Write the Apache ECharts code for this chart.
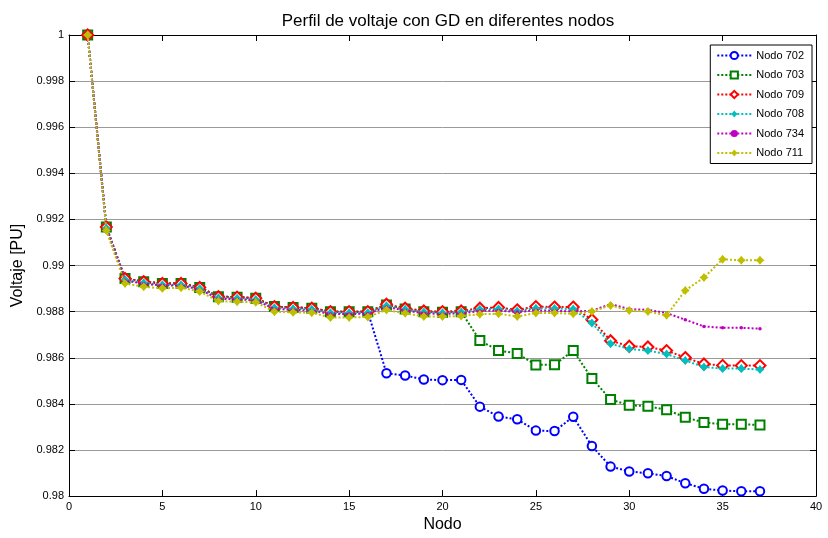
<!DOCTYPE html>
<html>
<head>
<meta charset="utf-8">
<script src="https://cdn.jsdelivr.net/npm/echarts@6/dist/echarts.min.js"></script>
<style>
  html, body { margin: 0; padding: 0; background: #fff; }
  #chart { width: 828px; height: 538px; }
</style>
</head>
<body>
<div id="chart"></div>
<script>
// Node numbers along the feeder
const nodes = [1, 2, 3, 4, 5, 6, 7, 8, 9, 10, 11, 12, 13, 14, 15, 16, 17, 18, 19, 20,
  21, 22, 23, 24, 25, 26, 27, 28, 29, 30, 31, 32, 33, 34, 35, 36, 37];

// Voltage profile (p.u.) with distributed generation at each node
const nodo702 = [1.0, 0.99167, 0.98944, 0.98930, 0.98922, 0.98922, 0.98905, 0.98865, 0.98863, 0.98858,
  0.98822, 0.98818, 0.98815, 0.98800, 0.98800, 0.98800, 0.98533, 0.98523, 0.98506, 0.98503,
  0.98504, 0.98388, 0.98345, 0.98333, 0.98284, 0.98282, 0.98344, 0.98217, 0.98128, 0.98107,
  0.98099, 0.98087, 0.98056, 0.98032, 0.98024, 0.98021, 0.98021];
const nodo703 = [1.0, 0.99167, 0.98944, 0.98930, 0.98922, 0.98922, 0.98905, 0.98865, 0.98863, 0.98858,
  0.98822, 0.98818, 0.98815, 0.98800, 0.98800, 0.98800, 0.98829, 0.98812, 0.98800, 0.98797,
  0.98800, 0.98675, 0.98631, 0.98619, 0.98569, 0.98570, 0.98631, 0.98510, 0.98419, 0.98394,
  0.98390, 0.98374, 0.98342, 0.98319, 0.98312, 0.98312, 0.98308];
const nodo709 = [1.0, 0.99167, 0.98944, 0.98930, 0.98922, 0.98922, 0.98905, 0.98865, 0.98863, 0.98858,
  0.98822, 0.98818, 0.98815, 0.98800, 0.98800, 0.98800, 0.98832, 0.98815, 0.98803, 0.98800,
  0.98803, 0.98815, 0.98818, 0.98808, 0.98822, 0.98820, 0.98820, 0.98765, 0.98674, 0.98650,
  0.98647, 0.98631, 0.98601, 0.98573, 0.98567, 0.98566, 0.98566];
const nodo708 = [1.0, 0.99163, 0.98939, 0.98925, 0.98917, 0.98917, 0.98900, 0.98860, 0.98858, 0.98853,
  0.98817, 0.98813, 0.98810, 0.98795, 0.98795, 0.98795, 0.98826, 0.98810, 0.98798, 0.98795,
  0.98798, 0.98810, 0.98812, 0.98803, 0.98815, 0.98814, 0.98811, 0.98751, 0.98661, 0.98638,
  0.98631, 0.98616, 0.98588, 0.98560, 0.98553, 0.98553, 0.98549];
const nodo734 = [1.0, 0.99160, 0.98935, 0.98921, 0.98913, 0.98913, 0.98896, 0.98856, 0.98854, 0.98849,
  0.98812, 0.98808, 0.98805, 0.98790, 0.98790, 0.98791, 0.98820, 0.98805, 0.98793, 0.98790,
  0.98793, 0.98803, 0.98805, 0.98798, 0.98806, 0.98804, 0.98801, 0.98804, 0.98833, 0.98811,
  0.98808, 0.98794, 0.98765, 0.98736, 0.98730, 0.98730, 0.98726];
const nodo711 = [1.0, 0.99152, 0.98922, 0.98908, 0.98901, 0.98904, 0.98887, 0.98846, 0.98843, 0.98841,
  0.98800, 0.98797, 0.98795, 0.98775, 0.98775, 0.98777, 0.98807, 0.98793, 0.98779, 0.98779,
  0.98781, 0.98789, 0.98791, 0.98779, 0.98794, 0.98794, 0.98791, 0.98801, 0.98827, 0.98805,
  0.98801, 0.98784, 0.98892, 0.98948, 0.99027, 0.99023, 0.99023];

const seriesNames = ['Nodo 702', 'Nodo 703', 'Nodo 709', 'Nodo 708', 'Nodo 734', 'Nodo 711'];
const seriesValues = [nodo702, nodo703, nodo709, nodo708, nodo734, nodo711];
const seriesColors = ['#0000FF', '#008000', '#FF0000', '#00BFBF', '#BF00BF', '#BFBF00'];

// Chunky four-point star used for the 708 and 711 markers
const star4 = 'path://M0,-10 L4.5,-4.5 L10,0 L4.5,4.5 L0,10 L-4.5,4.5 L-10,0 L-4.5,-4.5 Z';
const seriesSymbols = ['emptyCircle', 'emptyRect', 'emptyDiamond', star4, 'circle', star4];
const seriesSymbolSizes = [8.5, 9, 11, 9, 3.5, 9];

const FONT = 'Liberation Sans, Arial, sans-serif';

function fmtY(v) {
  return String(parseFloat(v.toFixed(3)));
}

const series = seriesNames.map((name, i) => ({
  name: name,
  type: 'line',
  xAxisIndex: 0,
  yAxisIndex: 0,
  data: nodes.map((n, k) => [n, seriesValues[i][k]]),
  symbol: seriesSymbols[i],
  symbolSize: seriesSymbolSizes[i],
  showAllSymbol: true,
  color: seriesColors[i],
  lineStyle: { type: 'dotted', width: 2, color: seriesColors[i] },
  itemStyle: { color: seriesColors[i], borderWidth: 2 },
  emphasis: { disabled: true },
  animation: false,
  z: 2 + i
}));

const chart = echarts.init(document.getElementById('chart'), null, { renderer: 'canvas' });
chart.setOption({
  backgroundColor: '#fff',
  animation: false,
  title: {
    text: 'Perfil de voltaje con GD en diferentes nodos',
    left: 443,
    textAlign: 'center',
    top: 8,
    textStyle: { fontFamily: FONT, fontSize: 17, fontWeight: 'normal', color: '#000' }
  },
  legend: {
    data: seriesNames.map((name) => ({
      name: name,
      itemStyle: { borderWidth: 2 }
    })),
    right: 16,
    top: 45,
    orient: 'vertical',
    itemWidth: 34,
    itemHeight: 9,
    itemGap: 8.5,
    padding: [5, 8, 5, 6],
    backgroundColor: '#fff',
    borderColor: '#000',
    borderWidth: 1,
    borderRadius: 0,
    textStyle: { fontFamily: FONT, fontSize: 11, color: '#000' }
  },
  grid: { left: 69, right: 12, top: 35, bottom: 39 },
  xAxis: [
    {
      type: 'value', min: 0, max: 40, interval: 5,
      name: 'Nodo', nameLocation: 'middle', nameGap: 17,
      nameTextStyle: { fontFamily: FONT, fontSize: 16, color: '#000' },
      axisLine: { show: true, onZero: false, lineStyle: { color: '#000', width: 1 } },
      axisTick: { show: true, inside: true, length: 6, lineStyle: { color: '#000' } },
      axisLabel: { fontFamily: FONT, fontSize: 11, color: '#000', margin: 5 },
      splitLine: { show: false }
    },
    {
      type: 'value', min: 0, max: 40, interval: 5, position: 'top',
      axisLine: { show: true, onZero: false, lineStyle: { color: '#000', width: 1 } },
      axisTick: { show: true, inside: true, length: 6, lineStyle: { color: '#000' } },
      axisLabel: { show: false },
      splitLine: { show: false }
    }
  ],
  yAxis: [
    {
      type: 'value', min: 0.98, max: 1, interval: 0.002,
      name: 'Voltaje [PU]', nameLocation: 'middle', nameGap: 40,
      nameTextStyle: { fontFamily: FONT, fontSize: 16, color: '#000' },
      axisLine: { show: true, onZero: false, lineStyle: { color: '#000', width: 1 } },
      axisTick: { show: true, inside: true, length: 6, lineStyle: { color: '#000' } },
      axisLabel: { fontFamily: FONT, fontSize: 11, color: '#000', margin: 5, formatter: fmtY },
      splitLine: { show: true, lineStyle: { color: '#9a9a9a', width: 1 } }
    },
    {
      type: 'value', min: 0.98, max: 1, interval: 0.002, position: 'right',
      axisLine: { show: true, onZero: false, lineStyle: { color: '#000', width: 1 } },
      axisTick: { show: true, inside: true, length: 6, lineStyle: { color: '#000' } },
      axisLabel: { show: false },
      splitLine: { show: false }
    }
  ],
  series: series
});
</script>
</body>
</html>
